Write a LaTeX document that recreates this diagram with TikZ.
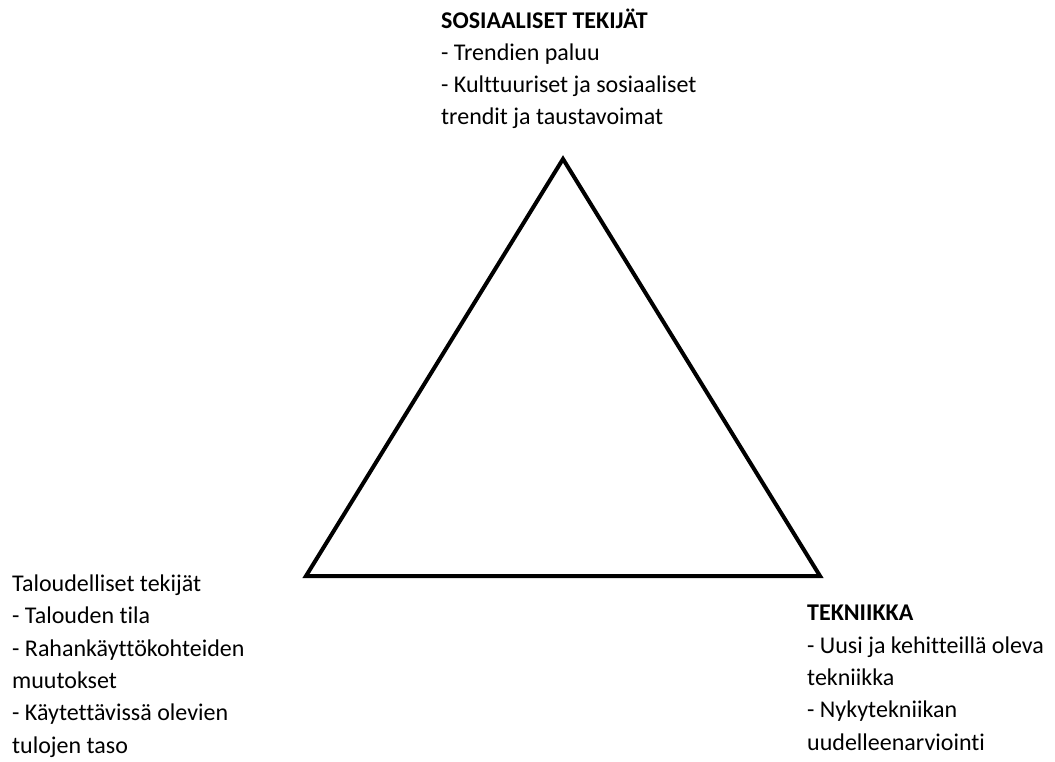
\documentclass[tikz,border=0pt]{standalone}
\usepackage{fontspec}
\setmainfont{Carlito}[Ligatures=NoCommon]
\begin{document}
\begin{tikzpicture}[x=1pt,y=-1pt,
  lbl/.style={anchor=base west,align=left,inner sep=0pt,font=\fontsize{24}{32.3}\selectfont},
  tri/.style={draw=black,line width=4pt,line join=miter}]
\useasboundingbox (0,0) rectangle (1055,762);
\coordinate (top) at (563,159);
\coordinate (bl) at (306,576);
\coordinate (br) at (820,576);
\draw[tri] (top) -- (bl) -- (br) -- cycle;
\node[lbl] (soc) at (441,125) {\textbf{SOSIAALISET TEKIJÄT}\\- Trendien paluu\\- Kulttuuriset ja sosiaaliset\\trendit ja taustavoimat};
\node[lbl] (eco) at (12,753) {Taloudelliset tekijät\\- Talouden tila\\- Rahankäyttökohteiden\\muutokset\\- Käytettävissä olevien\\tulojen taso};
\node[lbl] (tek) at (807,750) {\textbf{TEKNIIKKA}\\- Uusi ja kehitteillä oleva\\tekniikka\\- Nykytekniikan\\uudelleenarviointi};
\end{tikzpicture}
\end{document}
